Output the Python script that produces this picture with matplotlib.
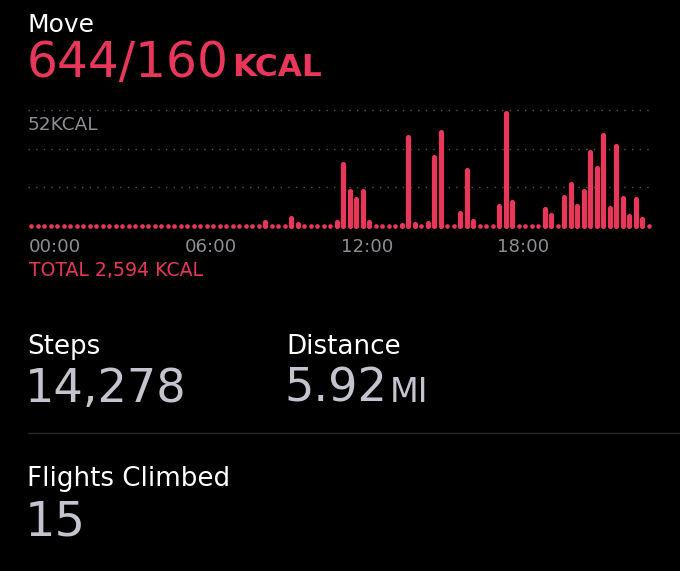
import matplotlib
matplotlib.use("Agg")
import matplotlib.pyplot as plt
import numpy as np

# ---- data (kcal per 15-minute interval, 96 intervals) ----
kcal = [0]*96
active = {36: 2.8, 40: 4.9, 41: 2.1, 47: 2.8, 48: 29.0, 49: 16.7, 50: 13.3, 51: 16.7,
          52: 2.8, 57: 1.5, 58: 40.9, 59: 2.0, 61: 2.5, 62: 32.0, 63: 43.5, 66: 6.8,
          67: 26.4, 68: 3.6, 72: 10.1, 73: 52.0, 74: 11.9, 79: 8.6, 80: 5.9, 82: 14.2,
          83: 20.1, 84: 10.2, 85: 16.7, 86: 34.2, 87: 27.1, 88: 42.1, 89: 9.2, 90: 37.2,
          91: 13.9, 92: 5.6, 93: 13.2, 94: 4.3}
for k, v in active.items():
    kcal[k] = v
grid_values = [17.33, 34.67, 52.0]
tick_positions = [0, 24, 48, 72]
tick_labels = ["00:00", "06:00", "12:00", "18:00"]
max_label = "52KCAL"
move_value = "644/160"
move_unit = "KCAL"
total_label = "TOTAL 2,594 KCAL"
steps_value = "14,278"
distance_value = "5.92"
distance_unit = "MI"
flights_value = "15"

W, H = 680, 571
RED = "#E8375B"
GRAY = "#8E8E93"
NUM = "#C4C4CE"
FONT = "DejaVu Sans"
PT = 72 / 100.0  # px -> pt

fig = plt.figure(figsize=(W/100, H/100), dpi=100, facecolor="black")

def fx(x): return x / W
def fy(y): return 1 - y / H

# chart axes in pixel geometry
x0, x1 = 28, 655
ytop, ybot = 100, 234
ax = fig.add_axes([fx(x0), fy(ybot), (x1-x0)/W, (ybot-ytop)/H])
ax.set_facecolor("black")
bar0, step = 31, 6.5
ax.set_xlim((x0-bar0)/step, (x1-bar0)/step)
scale = (226-110)/52.0
ax.set_ylim(-(ybot-226)/scale, (226-ytop)/scale)
for s in ax.spines.values():
    s.set_visible(False)
ax.set_xticks([]); ax.set_yticks([])

for g in grid_values:
    ax.axhline(g, xmin=0, xmax=(652-x0)/(x1-x0), color="#555555", lw=1.0,
               linestyle=(0, (1, 4.5)))

lw_px = 5.2
cap = (lw_px/2)/scale
idx = np.arange(len(kcal))
vals = np.array(kcal, dtype=float)
tops = np.maximum(vals - cap, 0)
lc = ax.vlines(idx, 0, tops, color=RED, lw=lw_px*PT)
lc.set_capstyle("round")
zero = tops <= 0
ax.scatter(idx[zero], np.zeros(zero.sum()), s=(4.6*PT)**2, color=RED, lw=0)

fig.text(fx(28), fy(130), max_label, color=GRAY, fontsize=13.3, family=FONT,
         va="baseline", ha="left", zorder=5)

for p, t in zip(tick_positions, tick_labels):
    fig.text(fx(bar0 - 2 + p*step), fy(251.7), t, color=GRAY, fontsize=13.1,
             family=FONT, va="baseline", ha="left")

fig.text(fx(29), fy(275.5), total_label, color=RED, fontsize=13.6, family=FONT,
         va="baseline", ha="left")

fig.text(fx(28), fy(31.7), "Move", color="white", fontsize=18.0, family=FONT,
         va="baseline", ha="left")

r = fig.canvas.get_renderer()
t1 = fig.text(fx(27), fy(76.5), move_value, color=RED, fontsize=35.0, family=FONT,
              va="baseline", ha="left")
bb = t1.get_window_extent(r)
fig.text(bb.x1/W + 3/W, fy(76.5), move_unit, color=RED, fontsize=22.5, family=FONT,
         weight="bold", va="baseline", ha="left")

fig.text(fx(27), fy(354), "Steps", color="white", fontsize=18.8, family=FONT,
         va="baseline", ha="left")
fig.text(fx(25), fy(402), steps_value, color=NUM, fontsize=33.3, family=FONT,
         va="baseline", ha="left")
fig.text(fx(286), fy(354), "Distance", color="white", fontsize=18.8, family=FONT,
         va="baseline", ha="left")
t2 = fig.text(fx(284), fy(402), distance_value, color=NUM, fontsize=33.3, family=FONT,
              va="baseline", ha="left")
bb2 = t2.get_window_extent(r)
fig.text(bb2.x1/W + 3/W, fy(402), distance_unit, color=NUM, fontsize=24,
         family=FONT, va="baseline", ha="left")

fig.add_artist(plt.Line2D([fx(28), 1], [fy(432.5), fy(432.5)], color="#2A2A2C", lw=1.0))

fig.text(fx(27), fy(486), "Flights Climbed", color="white", fontsize=18.8, family=FONT,
         va="baseline", ha="left")
fig.text(fx(25), fy(536), flights_value, color=NUM, fontsize=34.5, family=FONT,
         va="baseline", ha="left")

fig.savefig("out.png", dpi=100, facecolor="black")
